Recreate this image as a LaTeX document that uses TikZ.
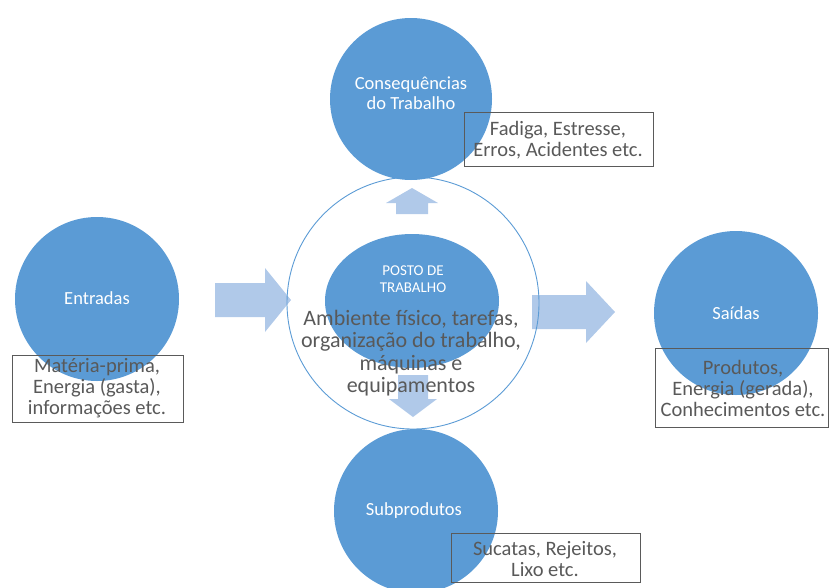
\documentclass[tikz,border=0pt]{standalone}
\usepackage{fontspec}
\setmainfont{Carlito}
\usetikzlibrary{shapes.geometric}
\definecolor{cblue}{HTML}{5B9BD5}
\definecolor{arrowblue}{HTML}{B0C9E9}
\definecolor{txtgray}{HTML}{595959}
\definecolor{boxline}{HTML}{5A5A5A}
\tikzset{
  bluecircle/.style={circle, fill=cblue, draw=none, inner sep=0pt},
  blockarrow/.style={fill=arrowblue, draw=none},
  circlabel/.style={text=white, align=center, font=\fontsize{18.5}{19.5}\selectfont},
  boxtext/.style={text=txtgray, align=center, font=\fontsize{20.5}{21}\selectfont},
  infobox/.style={draw=boxline, line width=0.8pt, fill=none},
}
\begin{document}
\begin{tikzpicture}[x=1pt,y=-1pt]
\useasboundingbox (0,0) rectangle (829,587);
% block arrows
\path[blockarrow] (215,283) -- (265,283) -- (265,268) -- (291,300) -- (265,332) -- (265,317) -- (215,317) -- cycle;
\path[blockarrow] (532,295) -- (586,295) -- (586,281) -- (615,312) -- (586,343) -- (586,329) -- (532,329) -- cycle;
\path[blockarrow] (396,214) -- (396,203) -- (386,203) -- (412,188) -- (438,203) -- (428,203) -- (428,214) -- cycle;
\path[blockarrow] (398,375) -- (398,399) -- (389,399) -- (413,417) -- (437,399) -- (428,399) -- (428,375) -- cycle;
% circles
\node[bluecircle, minimum size=162pt] (cons) at (411,99) {};
\node[bluecircle, minimum size=164pt] (entr) at (97,299) {};
\node[bluecircle, minimum size=164pt] (said) at (736,313) {};
\node[bluecircle, minimum size=164pt] (subp) at (416,511) {};
\node[circle, draw=cblue, line width=0.9pt, minimum size=252pt, inner sep=0pt] (ring) at (413,303) {};
\node[ellipse, fill=cblue, minimum width=174pt, minimum height=134pt, inner sep=0pt] (posto) at (412,301) {};
% circle labels
\node[circlabel] (consl) at (411,93) {Consequências\\do Trabalho};
\node[circlabel] (entrl) at (97,298) {Entradas};
\node[circlabel] (saidl) at (736,313) {Saídas};
\node[circlabel] (subpl) at (414,511) {Subprodutos};
\node[circlabel, font=\fontsize{15}{17}\selectfont] (postol) at (413,279) {POSTO DE\\TRABALHO};
\node[boxtext, font=\fontsize{22}{22.5}\selectfont] (amb) at (411,353) {Ambiente físico, tarefas,\\organização do trabalho,\\máquinas e\\equipamentos};
% boxes
\draw[infobox] (464,112) rectangle (653,166);
\node[boxtext] (fad) at (558,140) {Fadiga, Estresse,\\Erros, Acidentes etc.};
\draw[infobox] (12,355) rectangle (183,422);
\node[boxtext] (mat) at (97,388) {Matéria-prima,\\Energia (gasta),\\informações etc.};
\draw[infobox] (655,348) rectangle (828,427);
\node[boxtext] (prod) at (743,388) {Produtos,\\Energia (gerada),\\Conhecimentos etc.};
\draw[infobox] (451,533) rectangle (640,582);
\node[boxtext] (suc) at (545,559) {Sucatas, Rejeitos,\\Lixo etc.};
\end{tikzpicture}
\end{document}
